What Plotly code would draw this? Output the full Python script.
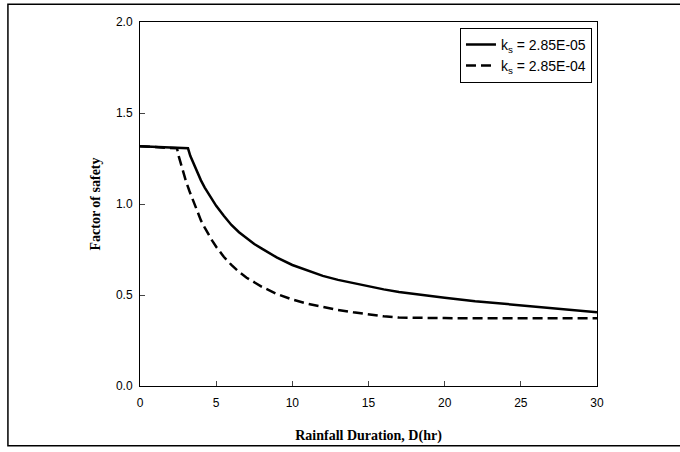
import plotly.graph_objects as go

# Data
x_ks05 = [0, 1.5, 3.15, 3.3, 3.5, 3.75, 4, 4.25, 4.5, 4.75, 5, 5.5, 6, 6.5, 7, 7.5, 8, 9, 10,
          11, 12, 13, 14, 15, 16, 17, 18, 20, 22, 24, 26, 28, 30]
fs_ks05 = [1.317, 1.311, 1.306, 1.265, 1.225, 1.175, 1.13, 1.09, 1.055, 1.02, 0.99, 0.935,
           0.885, 0.845, 0.81, 0.78, 0.755, 0.705, 0.665, 0.633, 0.605, 0.583, 0.565,
           0.547, 0.531, 0.517, 0.505, 0.485, 0.466, 0.45, 0.435, 0.42, 0.405]

x_ks04 = [0, 1.5, 2.43, 2.55, 2.7, 2.85, 3.0, 3.25, 3.5, 3.75, 4, 4.25, 4.5, 4.75, 5, 5.5, 6,
          6.5, 7, 7.5, 8, 9, 10, 11, 12, 13, 14, 15, 16, 17, 18, 20, 25, 30]
fs_ks04 = [1.317, 1.311, 1.306, 1.26, 1.215, 1.17, 1.13, 1.07, 1.015, 0.96, 0.91, 0.87,
           0.83, 0.797, 0.765, 0.71, 0.665, 0.627, 0.595, 0.568, 0.545, 0.505, 0.475,
           0.452, 0.434, 0.418, 0.405, 0.393, 0.383, 0.376, 0.374, 0.373, 0.372, 0.372]

name_ks05 = "k<sub>s</sub> = 2.85E-05"
name_ks04 = "k<sub>s</sub> = 2.85E-04"

x_ticks = [0, 5, 10, 15, 20, 25, 30]
y_ticks = [0.0, 0.5, 1.0, 1.5, 2.0]

fig = go.Figure()
fig.add_trace(go.Scatter(x=x_ks05, y=fs_ks05, mode="lines", name=name_ks05,
                         line=dict(color="black", width=2.5)))
fig.add_trace(go.Scatter(x=x_ks04, y=fs_ks04, mode="lines", name=name_ks04,
                         line=dict(color="black", width=2.5, dash="10px,5px")))

tick_font = dict(family="Liberation Sans, Arial, sans-serif", size=12, color="black")
title_font = dict(family="Liberation Serif, Times New Roman, serif", size=14, color="black",
                  weight="bold")

fig.update_layout(
    width=680, height=452,
    margin=dict(l=140, r=83, t=22, b=64),
    paper_bgcolor="white", plot_bgcolor="white",
    showlegend=True,
    legend=dict(x=0.989, y=0.984, xanchor="right", yanchor="top",
                bgcolor="white", bordercolor="black", borderwidth=1,
                font=dict(family="Liberation Sans, Arial, sans-serif", size=14, color="black"),
                tracegroupgap=2, itemwidth=30),
    xaxis=dict(range=[0, 30], tickvals=x_ticks, ticks="inside", ticklen=5,
               showline=True, linecolor="black", linewidth=1, mirror=True,
               showgrid=False, zeroline=False, tickfont=tick_font,
               ticklabelstandoff=6,
               title=dict(text="Rainfall Duration, D(hr)", font=title_font, standoff=20)),
    yaxis=dict(range=[0, 2], tickvals=y_ticks, tickformat=".1f", ticks="inside", ticklen=5,
               showline=True, linecolor="black", linewidth=1, mirror=True,
               showgrid=False, zeroline=False, tickfont=tick_font,
               ticklabelstandoff=4,
               title=dict(text="Factor of safety", font=title_font, standoff=12)),
)

# outer frame (left, top, bottom edges visible; right edge falls outside)
fig.add_shape(type="rect", xref="paper", yref="paper",
              x0=-0.289, x1=1.3, y0=-0.164, y1=1.049,
              line=dict(color="black", width=1.5), fillcolor="rgba(0,0,0,0)", layer="above")

fig.write_html("out.html", config={"displayModeBar": False},
               post_script="document.body.style.margin='0';document.body.style.overflow='hidden';")
